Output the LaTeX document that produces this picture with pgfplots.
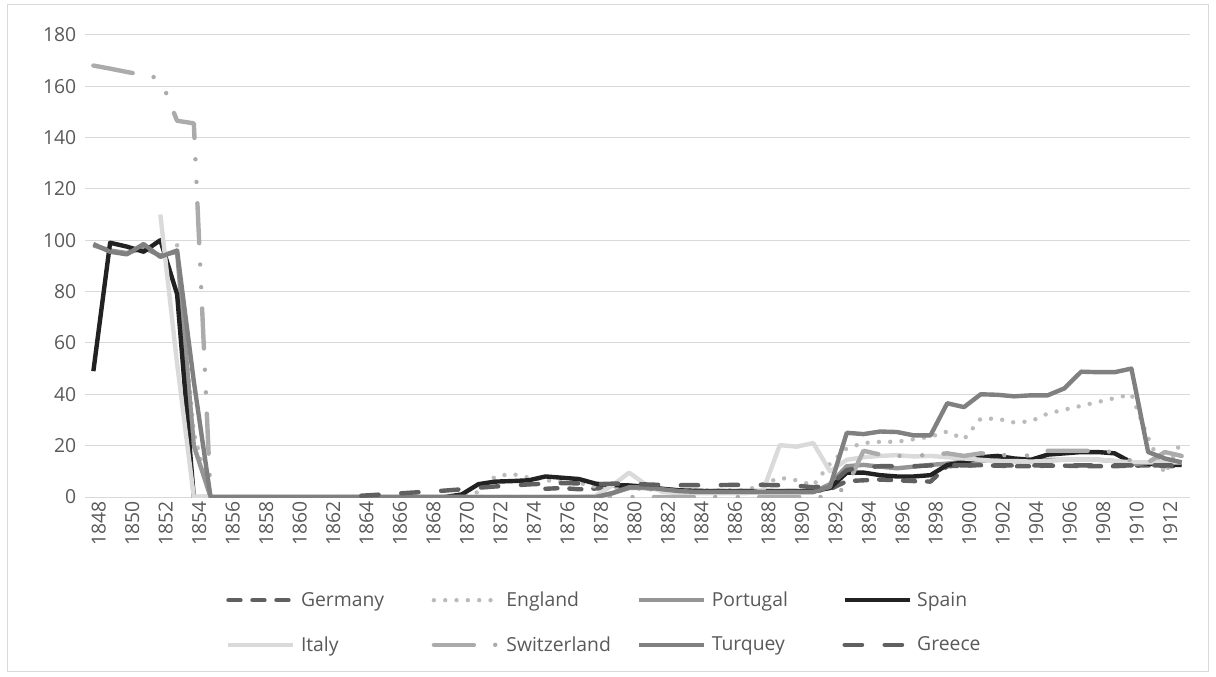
\documentclass[border=0pt]{standalone}
\usepackage{pgfplots}
\pgfplotsset{compat=1.18}
\usepackage{pgfplotstable}
\usepackage{fontspec}
\setmainfont{Open Sans}
\definecolor{cGer}{HTML}{606060}
\definecolor{cEng}{HTML}{BBBBBB}
\definecolor{cPor}{HTML}{959595}
\definecolor{cSpa}{HTML}{222222}
\definecolor{cIta}{HTML}{DADADA}
\definecolor{cSwi}{HTML}{ABABAB}
\definecolor{cTur}{HTML}{808080}
\definecolor{cGre}{HTML}{606060}
\definecolor{gridc}{HTML}{D9D9D9}
\definecolor{labc}{HTML}{595959}
\pgfplotstableread{
year Ger Eng Por Spa Ita Swi Tur Gre
1848 nan nan 98 49 nan 168 98.5 nan
1849 nan nan 96 99 nan 166.8 95.5 nan
1850 nan nan 95 97.5 nan 165.5 94.5 nan
1851 nan nan 97 95.5 nan 164.3 98.5 nan
1852 nan nan 94 100 110 163 93.5 nan
1853 nan 98 95.5 79 52 146.5 96 nan
1854 nan 25 20 0 0 145.5 45 nan
1855 nan 0 0 0 0 0 0 nan
1856 nan 0 0 0 0 0 0 nan
1857 nan 0 0 0 0 0 0 nan
1858 nan 0 0 0 0 0 0 nan
1859 nan 0 0 0 0 0 0 nan
1860 nan 0 0 0 0 0 0 nan
1861 nan 0 0 0 0 0 0 nan
1862 nan 0 0 0 0 0 0 nan
1863 nan 0 0 0 0 0 0 nan
1864 nan 0 0 0 0 0 0 0.5
1865 nan 0 0 0 0 0 0 0.9
1866 nan 0 0 0 0 0 0 1.3
1867 nan 0 0 0 0 0 0 1.7
1868 nan 0 0 0 0 0 0 2.1
1869 nan 0 0 0 0 0 0 2.5
1870 nan 0 0 1 0 0 0 3.0
1871 nan 2 0 5 0 0 0 3.6
1872 nan 8 0 6 0 0 0 4.1
1873 nan 9 0 6.2 0 0 0 4.5
1874 nan 7.5 0 6.5 0 0 0 4.9
1875 3.2 6.5 0 8 0 0 0 5.2
1876 3.5 6 0 7.5 0 0 0 5.4
1877 3 5.5 0 7 0 0 0 5.3
1878 3.3 4 0 5.2 0.5 0 0 5.0
1879 3.8 3.5 1.5 4.6 4.5 0 1.5 5.2
1880 4 3.5 3.5 4.5 9.5 0 3.8 5.2
1881 3.5 3 3.5 4 4.8 0 3.8 4.9
1882 3 2.8 2.8 3.2 2 0 3 4.7
1883 2.5 2.6 2.2 2.6 1.5 0 2.3 4.6
1884 2.3 2.6 1.9 2.4 1.5 0 2 4.6
1885 2.3 2.6 1.9 2.3 1.5 0 2 4.6
1886 2.3 2.6 1.9 2.3 1.5 0 2 4.7
1887 2.3 2.6 1.9 2.3 1.5 0 2 4.7
1888 2.3 5 1.9 2.3 2.5 0 2 4.7
1889 2.3 7.5 1.9 2.3 20.2 0 2 4.6
1890 2.3 6.5 1.9 2.3 19.6 0 2 4.4
1891 2.3 4.5 1.9 2.3 21 0 2 3.8
1892 3 13 5 3.5 10 0 4 4.5
1893 6.2 19 12 9.5 14.5 4 25 10.5
1894 6.5 21 12.5 9.5 15.5 18 24.5 11.5
1895 6.8 21.5 11.8 8.5 16 16.5 25.5 12
1896 6.5 21.5 11.2 8 16.3 16 25.3 12
1897 6.2 22.5 11.8 8 15.8 16 24 12
1898 6 23.5 12.5 8.5 16 16.5 24 12.3
1899 12 25.5 13 12.5 15.5 17 36.5 12.5
1900 12.2 22.5 13.8 13.5 15 16 35 12.3
1901 12.4 30.5 14.2 15.5 14.5 17 40 12.3
1902 12.2 30.5 14.5 16 14 16.5 39.8 12.3
1903 12 29 14 15 14 16 39.2 12.3
1904 12 29.5 14 14.5 13.8 16.2 39.6 12.3
1905 12.2 32.5 14.5 16.5 14 18 39.6 12.3
1906 12.2 34 14.5 17 14.5 18 42.3 12.3
1907 12 35.5 14.5 17.5 14.5 18 48.8 12.3
1908 12 37 14.5 17.5 14.5 18 48.6 12.3
1909 12 38.5 14 17 14 17.5 48.6 12.3
1910 12.2 40 13 13.5 13.5 14 50 12.3
1911 12.3 23 13 13 13.5 13.5 17.5 12.3
1912 12 9 13 12.5 13.5 17.5 15 12.3
1913 12 22 13 12.5 13.5 16 13.5 12.3
}\data

\begin{document}
\begin{tikzpicture}
\path[use as bounding box] (0pt,0pt) rectangle (912pt,-507.75pt);
\draw[gridc, line width=0.75pt] (5.6pt,-3.4pt) rectangle (906.4pt,-503.6pt);
\begin{axis}[
  at={(63.75pt,-372.75pt)}, anchor=south west,
  scale only axis, width=828.75pt, height=346.7pt,
  xmin=1847.5, xmax=1913.5, ymin=0, ymax=180,
  xtick={1848,1850,...,1912}, ytick={0,20,...,180},
  axis line style={draw=none},
  ymajorgrids, major grid style={gridc, line width=0.75pt},
  major tick length=0pt,
  unbounded coords=jump,
  /pgf/number format/assume math mode=true,
  /pgf/number format/1000 sep={},
  tick label style={font=\fontsize{14.5}{17}\selectfont, text=labc},
  xticklabel style={rotate=90, anchor=east, xshift=0pt, yshift=-4pt},
  yticklabel style={xshift=-3pt},
  legend columns=4,
  legend style={draw=none, fill=none, at={(0.124,-0.193)}, anchor=north west,
    font=\fontsize{14.5}{17}\selectfont, text=labc,
    row sep=17pt,
    /tikz/every odd column/.append style={column sep=2pt},
    /tikz/every even column/.append style={column sep=6pt}},
  legend image code/.code={\draw[#1] (0pt,0pt) -- (48.75pt,0pt);},
  every axis plot/.append style={line width=3.3pt, line join=round},
]
\addplot[cGer, line cap=round, dash pattern=on 9pt off 9pt] table[x=year,y=Ger]{\data};
\addlegendentry{\makebox[90pt][l]{Germany}}
\addplot[cEng, line cap=round, dash pattern=on 0pt off 8.5pt] table[x=year,y=Eng]{\data};
\addlegendentry{\makebox[90pt][l]{England}}
\addplot[cPor] table[x=year,y=Por]{\data};
\addlegendentry{\makebox[90pt][l]{Portugal}}
\addplot[cSpa] table[x=year,y=Spa]{\data};
\addlegendentry{\makebox[60pt][l]{Spain}}
\addplot[cIta] table[x=year,y=Ita]{\data};
\addlegendentry{\makebox[90pt][l]{Italy}}
\addplot[cSwi, line cap=round, dash pattern=on 30pt off 16pt on 0pt off 17pt on 0pt off 16pt] table[x=year,y=Swi]{\data};
\addlegendentry{\makebox[90pt][l]{Switzerland}}
\addplot[cTur] table[x=year,y=Tur]{\data};
\addlegendentry{\makebox[90pt][l]{Turquey}}
\addplot[cGre, line cap=round, dash pattern=on 13pt off 17pt] table[x=year,y=Gre]{\data};
\addlegendentry{\makebox[60pt][l]{Greece}}
\end{axis}
\end{tikzpicture}
\end{document}
